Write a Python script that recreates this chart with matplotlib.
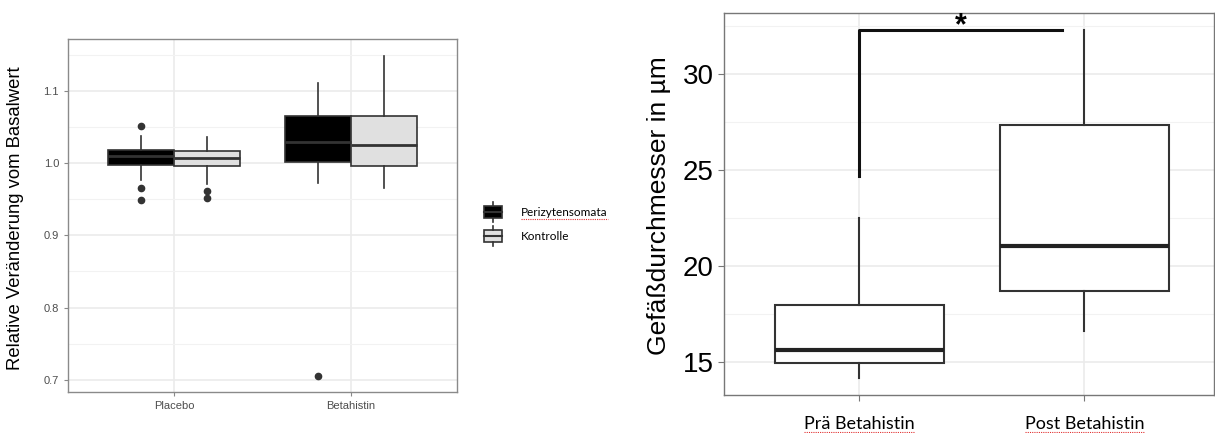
import matplotlib
matplotlib.use("Agg")
import matplotlib.pyplot as plt
from matplotlib.patches import Rectangle
from matplotlib.lines import Line2D
import numpy as np

W, H = 1215, 433

# left panel data (relative change to baseline)
groups = ["Placebo", "Betahistin"]
series = ["Perizytensomata", "Kontrolle"]
peri_q1 = [0.998, 1.002]
peri_med = [1.010, 1.029]
peri_q3 = [1.018, 1.065]
peri_lo = [0.976, 0.973]
peri_hi = [1.037, 1.111]
peri_out = [[1.051, 0.965, 0.949], [0.705]]
kont_q1 = [0.996, 0.996]
kont_med = [1.007, 1.025]
kont_q3 = [1.017, 1.066]
kont_lo = [0.971, 0.965]
kont_hi = [1.036, 1.149]
kont_out = [[0.962, 0.952], []]

# right panel data (vessel diameter in um)
cond = ["Prä Betahistin", "Post Betahistin"]
d_q1 = [14.95, 18.68]
d_med = [15.63, 21.06]
d_q3 = [17.97, 27.34]
d_lo = [14.17, 16.63]
d_hi = [22.5, 32.27]
sig_y = 32.3
sig_drop = 24.7
sig_end = 1.9

grey_txt = "#4d4d4d"
edge = "#333333"
grid_c = "#ebebeb"


def stats(q1, med, q3, lo, hi, out=None):
    res = []
    for i in range(len(q1)):
        res.append(dict(q1=q1[i], med=med[i], q3=q3[i], whislo=lo[i], whishi=hi[i],
                        fliers=out[i] if out else []))
    return res


def px(x, y):
    return x / W, 1 - y / H


fig = plt.figure(figsize=(W / 100, H / 100), dpi=100)

# ---------- left panel
ax1 = fig.add_axes([68 / W, 1 - 392 / H, (457 - 68) / W, (392 - 39) / H])
pos = np.arange(1, len(groups) + 1)
fills = ["black", "#e0e0e0"]
all_stats = [stats(peri_q1, peri_med, peri_q3, peri_lo, peri_hi, peri_out),
             stats(kont_q1, kont_med, kont_q3, kont_lo, kont_hi, kont_out)]
for k, st in enumerate(all_stats):
    ax1.bxp(st, positions=pos + (k - 0.5) * 0.375, widths=0.375, patch_artist=True,
            showcaps=False,
            boxprops=dict(facecolor=fills[k], edgecolor=edge, linewidth=1.2),
            medianprops=dict(color=edge, linewidth=2),
            whiskerprops=dict(color=edge, linewidth=1.2),
            flierprops=dict(marker="o", markerfacecolor=edge, markeredgecolor=edge,
                            markersize=4.5))
ax1.set_xlim(0.4, 2.6)
ax1.set_ylim(0.683, 1.172)
ax1.set_xticks(pos)
ax1.set_xticklabels(groups)
ax1.set_yticks([0.7, 0.8, 0.9, 1.0, 1.1])
ax1.set_yticklabels(["0.7", "0.8", "0.9", "1.0", "1.1"])
ax1.set_yticks([0.75, 0.85, 0.95, 1.05, 1.15], minor=True)
ax1.grid(True, which="major", color=grid_c, linewidth=1.2)
ax1.grid(True, which="minor", axis="y", color="#f2f2f2", linewidth=0.8)
ax1.set_axisbelow(True)
ax1.tick_params(which="major", colors="#888888", labelcolor=grey_txt, labelsize=8,
                length=3, labelfontfamily="Liberation Sans")
ax1.tick_params(which="minor", length=0)
for s in ax1.spines.values():
    s.set_color("#8a8a8a")
    s.set_linewidth(1)
fig.text(16 / W, 1 - 218 / H, "Relative Veränderung vom Basalwert", rotation=90,
         ha="center", va="center", fontsize=13.3, family="Liberation Sans")

# legend drawn by hand
for k, name in enumerate(series):
    cy = 212 + 24 * k
    x0, y0 = px(484, cy + 6)
    x1, y1 = px(502, cy - 6)
    fig.patches.append(Rectangle((x0, y0), x1 - x0, y1 - y0, transform=fig.transFigure,
                                 facecolor=fills[k], edgecolor=edge, linewidth=1.2))
    fig.lines.append(Line2D([x0, x1], [px(0, cy)[1]] * 2, transform=fig.transFigure,
                            color=edge, linewidth=1.5))
    xm = px(493, 0)[0]
    fig.lines.append(Line2D([xm, xm], [px(0, cy - 10)[1], y1], transform=fig.transFigure,
                            color=edge, linewidth=1.2))
    fig.lines.append(Line2D([xm, xm], [y0, px(0, cy + 10)[1]], transform=fig.transFigure,
                            color=edge, linewidth=1.2))
    fig.text(521 / W, px(0, cy)[1], name, ha="left", va="center", fontsize=8.5,
             family="Lato")

# ---------- right panel
ax2 = fig.add_axes([724 / W, 1 - 395 / H, (1214 - 724) / W, (395 - 13) / H])
pos2 = np.arange(1, len(cond) + 1)
ax2.bxp(stats(d_q1, d_med, d_q3, d_lo, d_hi), positions=pos2, widths=0.75,
        patch_artist=True, showcaps=False, showfliers=False,
        boxprops=dict(facecolor="white", edgecolor=edge, linewidth=1.5),
        medianprops=dict(color="#222222", linewidth=3),
        whiskerprops=dict(color=edge, linewidth=1.5))
ax2.plot([1, 1, sig_end], [sig_drop, sig_y, sig_y], color="#111111", linewidth=2.2)
ax2.text((1 + sig_end) / 2, sig_y + 0.95, "*", ha="center", va="top", fontsize=22,
         fontweight="bold", family="Liberation Sans")
ax2.set_xlim(0.4, 2.575)
ax2.set_ylim(13.28, 33.18)
ax2.set_xticks(pos2)
ax2.set_xticklabels(cond, fontsize=13, family="Lato")
ax2.set_yticks([15, 20, 25, 30])
ax2.set_yticklabels(["15", "20", "25", "30"], fontsize=20,
                    family=["Liberation Sans Narrow", "Liberation Sans"])
ax2.set_yticks([17.5, 22.5, 27.5, 32.5], minor=True)
ax2.grid(True, which="major", color=grid_c, linewidth=1.2)
ax2.grid(True, which="minor", axis="y", color="#f2f2f2", linewidth=0.8)
ax2.set_axisbelow(True)
ax2.tick_params(which="major", colors="#777777", labelcolor="black", length=4)
ax2.tick_params(axis="x", pad=11)
ax2.tick_params(which="minor", length=0)
for s in ax2.spines.values():
    s.set_color("#777777")
    s.set_linewidth(1)
fig.text(659 / W, 1 - 206 / H, "Gefäßdurchmesser in µm", rotation=90, ha="center",
         va="center", fontsize=19, family="Liberation Sans")

# red spell-check underlines
fig.canvas.draw()
rend = fig.canvas.get_renderer()
marked = [t for t in fig.texts if t.get_text() == series[0]] + list(ax2.get_xticklabels())
for t in marked:
    bb = t.get_window_extent(rend)
    yy = max(bb.y0 - 1, 1)
    fig.lines.append(Line2D([bb.x0 / W, bb.x1 / W], [yy / H, yy / H], transform=fig.transFigure,
                            color="#e03030", linewidth=0.8, linestyle=(0, (1, 1))))

fig.savefig("out.png", dpi=100)
